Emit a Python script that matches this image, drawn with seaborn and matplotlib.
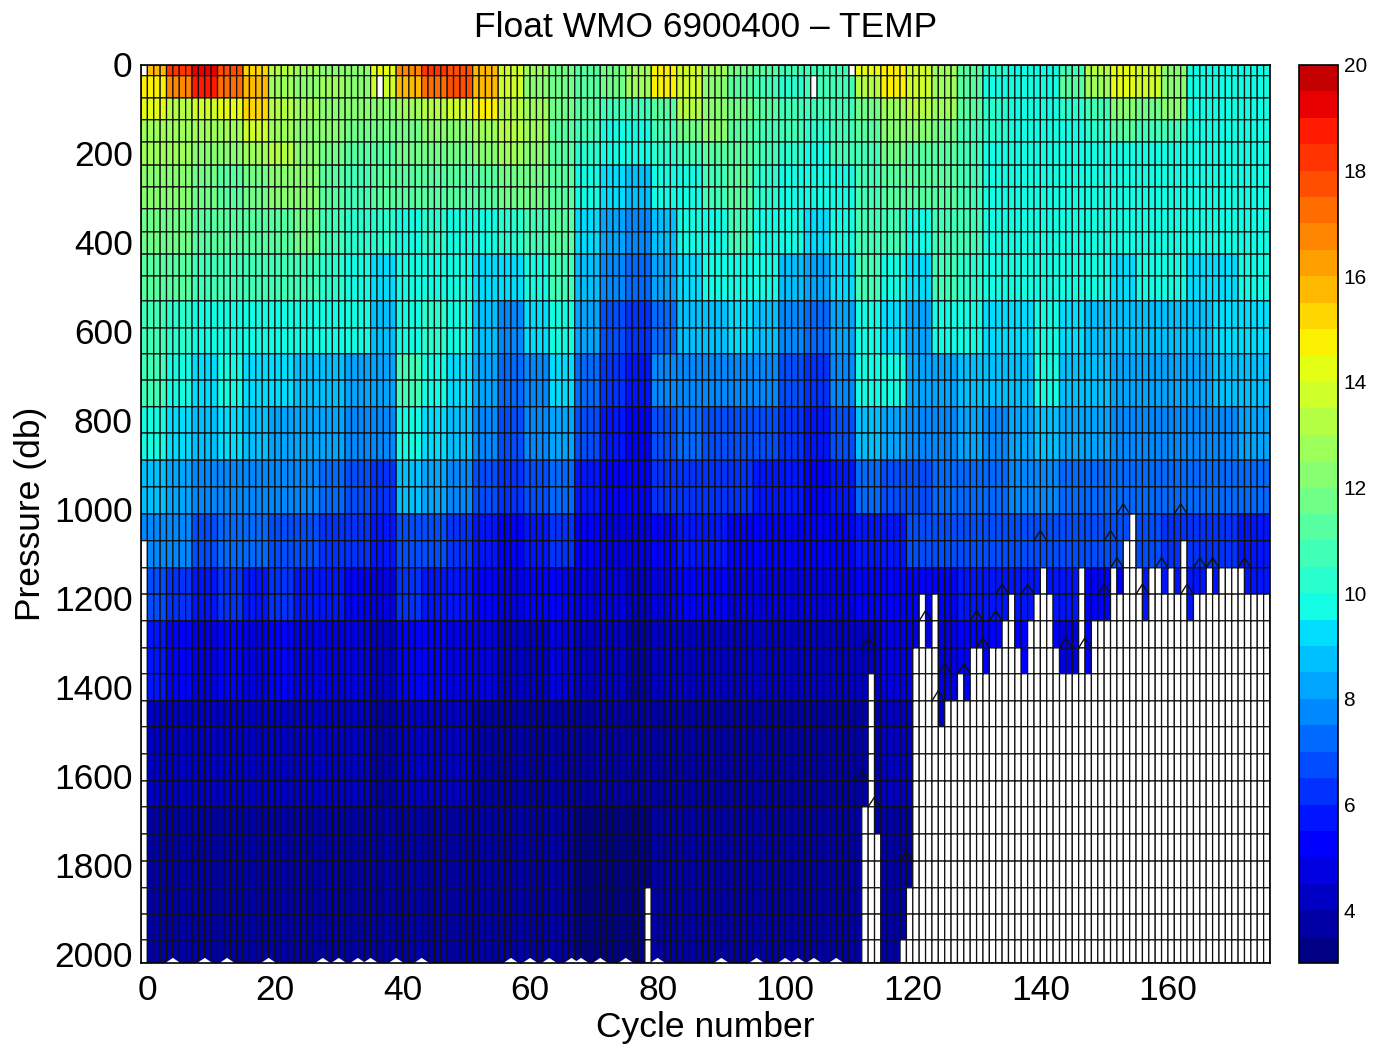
import numpy as np
import matplotlib
matplotlib.use("Agg")
import matplotlib.pyplot as plt
from matplotlib.colors import ListedColormap
from matplotlib.transforms import ScaledTranslation
import seaborn as sns

# pressure limits of each row of cells (db)
level_edges = [-2, 22, 72, 121, 171, 223, 272, 321, 373, 423, 472, 528, 589, 647, 706, 766, 825, 886, 946,
               1007, 1067, 1128, 1187, 1247, 1308, 1366, 1427, 1485, 1546, 1607, 1665, 1726, 1787, 1847,
               1906, 1964, 2016]
# how many rows of cells each temperature list below covers
rows_per_list = [1, 1, 1, 1, 1, 2, 2, 2, 2, 2, 2, 2, 2, 2, 3, 4, 6]
columns_per_value = 4
# temperature (deg C) read per group of four cycles, from the surface down
t00 = [15.5,18,19,17.5,15,13,12.5,12,12,14,16.5,18,17.5,15.5,13.5,12.5,11.5,11,11.5,12.5,14.5,13.5,12.5,11.5,11,10.5,10.5,10.5,14,14.5,13.5,12.5,11,10.2,9.8,9.8,10.7,13,14.2,13.5,12,9.8,9.7,9.5]
t01 = [14.5,16.5,18.5,17,15.5,12.5,12,12.5,12,13.5,15.5,17,17.5,15.5,13.5,12,11.5,11,11.5,12.5,14.5,13.5,12,11,10.5,10.3,10.5,10.5,13,14.5,13.5,12.5,11,9.8,9.8,9.8,11,12.5,14,13.5,12,9.8,9.5,9.5]
t02 = [14,13.2,13.8,14,15,13,12.5,12,12,12,12.5,13,13.5,14.5,13.3,12.5,11.5,11,10.5,10.5,11,13,12,11.5,11,10.5,10.5,10.5,11.5,12.5,13,12.5,11.2,10.3,9.8,9.8,10.2,10.5,12,11.5,12,9.8,9.7,9.5]
t03 = [12.5,12.5,12.5,12.5,13.5,12.5,12,12,11.5,11.5,11.5,12,12,12.5,13.1,12.5,11.3,10.5,9.8,9.8,10.5,11.5,12,11.3,10.8,10.5,10.2,10.5,11,12,12,11.5,10.8,10,9.8,9.8,9.8,10.2,11,10.5,10.5,9.8,9.7,9.7]
t04 = [12.5,12.5,12,12,12.5,13,12,11.5,11,11.2,11.5,11.5,11.5,12,12.8,12.3,11,10.3,9.8,9.8,10.2,10.8,11.3,11.3,10.8,10.2,9.9,10.5,10.8,11.5,11,11,10.5,9.8,9.8,9.8,9.8,9.8,9.8,9.8,9.8,9.7,9.7,9.7]
t05 = [12.3,12,11.8,11.3,11.5,12.3,12,11.2,10.8,11,11.3,11,11,11.3,11.7,11.5,11,9.8,9.2,8.8,9.6,9.9,10.8,11,10.3,9.9,9.9,9.9,10.8,11,11,11,10.5,9.8,9.8,9.8,9.8,9.8,9.8,9.8,9.8,9.7,9.7,9.7]
t07 = [11.5,11.5,11.3,11,11,11.3,11.5,10.8,10.3,10.3,9.9,10.3,9.9,9.9,10.2,10.5,11,9.2,8,7.8,8.7,9.5,9.9,10.8,9.9,9.5,9.2,9.8,10.5,10.5,9.9,10.8,10.5,9.8,9.8,9.8,9.8,9.8,9.8,9.8,9.8,9.7,9.5,9.5]
t09 = [11,11,10.8,10.5,10.5,10.8,10.8,10.2,9.8,9.3,9.5,9.9,9.8,9,9,9.9,10.8,8.8,7.5,7,8,9.2,9.8,9.9,9.5,8.8,8.3,9.3,10.5,9.9,9.3,10.8,10.3,9.8,9.8,9.6,9.5,9.5,9.3,9.5,9.5,9.3,9.3,9.5]
t11 = [10.8,10.3,9.9,9.9,9.9,9.9,9.9,9.8,9.5,8.5,9.8,10.2,9.5,8.5,7.8,9,9.8,8,6.5,6,7.2,8.5,8.5,9,8.5,7.8,7,8,9.8,9,8,9.8,9.5,9,9,9.5,9,8.8,8.8,8.7,8.5,8.5,9,9]
t13 = [10.8,9.7,9.3,9.7,9.3,9,8.8,8.9,8,8,10.5,9.9,9,8,7.4,7.8,9,7.3,6,5.5,7.5,7.5,7.5,7.8,7.5,6.8,6.3,7.5,9.5,9.5,8,8.3,8.8,8.5,8.5,9.5,8.8,8.5,8.3,8.3,8.2,8,8.5,8.5]
t15 = [9.5,9,8.8,9,8.8,8,8,8,7.5,7.5,9.5,9.3,8.5,7.5,6.8,7.5,8,6.5,5.8,5.3,6.8,7,6.8,6.8,6.5,6,5.8,6.5,8.5,8,7.5,7.5,8,7.8,8,8.5,8,8,7.8,7.8,7.8,7.8,7.8,8]
t17 = [8.5,8.3,7.8,7.8,7.8,7.5,7.5,7.2,6.8,6.2,8.5,8,7.5,6.7,6,6.5,7,5.7,5.3,5,6,6.2,6,6,5.8,5.5,5.3,5.5,7,6.8,6.5,7,7.2,7.3,7.5,7.5,7.3,7.2,7.2,7.2,7,7,7,7.2]
t19 = [7.5,7.5,6.8,7,7,6.8,6.8,6.3,6,5.5,6.8,6.5,6.3,5.8,5.2,5.5,6,5.2,4.8,4.5,5.3,5.5,5.5,5.3,5.1,5,5,5,5.8,5.5,6.8,6.5,6.5,6.7,6.7,6.5,6.5,6.5,6.5,6.5,6.2,6.2,6.2,5.8]
t21 = [6.8,6.3,5.5,6,5.8,6,5.8,5.5,5.2,4.8,6,5.7,5.5,5.3,4.9,5,5.2,4.7,4.5,4.3,4.8,5,5,4.8,4.7,4.6,4.6,4.6,5,5,5.2,5.2,5.5,5.5,5.5,5.5,5.5,5.3,5.3,5.5,5.5,5.5,5.5,5.5]
t23 = [5.5,5,4.6,5,4.8,5,4.8,4.6,4.5,4.3,5,5,4.8,4.5,4.3,4.4,4.5,4.2,4,3.9,4.2,4.3,4.4,4.3,4.2,4.1,4.1,4.1,4.3,4.5,4.8,4.8,5,5,5,5,4.8,5,5,5,5,5,5,5]
t26 = [4.3,4.2,4,4.2,4.1,4.2,4.1,4,4,3.9,4.1,4.1,4,3.9,3.8,3.8,3.9,3.8,3.7,3.6,3.8,3.8,3.8,3.8,3.7,3.7,3.7,3.7,3.9,4,4.2,4.2,4.2,4.2,4.2,4.2,4.2,4.2,4.2,4.2,4.2,4.2,4.2,4.2]
t30 = [3.7,3.7,3.7,3.7,3.7,3.7,3.7,3.7,3.7,3.7,3.7,3.7,3.7,3.6,3.6,3.6,3.6,3.4,3.4,3.4,3.6,3.6,3.6,3.6,3.6,3.6,3.6,3.6,3.7,3.7,3.7,3.7,3.7,3.7,3.7,3.7,3.7,3.7,3.7,3.7,3.7,3.7,3.7,3.7]
temperature_lists = [t00, t01, t02, t03, t04, t05, t07, t09, t11, t13, t15, t17, t19, t21, t23, t26, t30]
# number of rows holding data in each of the 177 columns, left to right
column_depth = [20] + [36] * 78 + [33] + [36] * 33 + [30, 25, 31, 36, 36, 36, 35, 33, 24, 22, 24, 22, 27, 26, 26, 25,
                26, 24, 24, 25, 24, 24, 23, 22, 24, 25, 23, 22, 21, 22, 24, 25, 25, 25, 21, 25, 23, 23, 23, 21, 22,
                20, 19, 21, 23, 21, 21, 22, 21, 22, 20, 23, 22, 22, 21, 22, 21, 21, 21, 21, 22, 22, 22, 22]
# (column, row) of isolated missing cells
missing_cells = [(0, 0), (37, 1), (105, 1), (111, 0)]
# places where a level bulges upward: column edge, level number
bulge_edge = [154, 163, 123, 131, 134, 132, 129, 126, 125, 135, 139, 151, 157, 164, 148, 145, 153, 160, 166, 173, 168, 141, 152, 113, 115, 120, 114]
bulge_level = [19, 19, 23, 23, 23, 24, 25, 25, 26, 22, 22, 22, 22, 22, 24, 24, 21, 21, 21, 21, 21, 20, 20, 29, 30, 32, 24]
# places where the deepest level stops short of the bottom: column edge
shallow_edge = [5, 10, 13.5, 20, 28.5, 31, 34, 36, 40, 44, 58, 61, 64, 67.5, 69, 72, 76, 81, 91, 96.5, 101, 103, 105.5, 109]

cycle_ticks = [0, 20, 40, 60, 80, 100, 120, 140, 160]
pressure_ticks = [0, 200, 400, 600, 800, 1000, 1200, 1400, 1600, 1800, 2000]
colorbar_ticks = [4, 6, 8, 10, 12, 14, 16, 18, 20]
title_text = "Float WMO 6900400 \u2013 TEMP"

sns.set_theme(style="ticks")
plt.rcParams["font.family"] = ["Liberation Sans", "DejaVu Sans"]

table = np.repeat(np.array(temperature_lists, dtype=float), rows_per_list, axis=0)
table = np.repeat(table, columns_per_value, axis=1)
table = np.hstack([table, table[:, -1:]])
for c, depth in enumerate(column_depth):
    table[depth:, c] = np.nan
for c, r in missing_cells:
    table[r, c] = np.nan

colors = plt.get_cmap("jet")(0.004 + np.arange(34) * 0.0283)
cmap = ListedColormap(sns.color_palette(colors[:, :3].tolist()))
cmap.set_bad("white")

fig = plt.figure(figsize=(13.74, 10.54), dpi=100, facecolor="white")
W, H = 1374, 1054
ax = fig.add_axes([141 / W, (H - 963) / H, 1129 / W, 898 / H])
cax = fig.add_axes([1299 / W, (H - 963) / H, 39 / W, 898 / H])

sns.heatmap(table, ax=ax, cbar_ax=cax, cmap=cmap, vmin=3, vmax=20, linewidths=0.9, linecolor="#101010",
            antialiased=True, xticklabels=False, yticklabels=False, cbar_kws={"ticks": colorbar_ticks})
ax.collections[0].set_antialiased(True)
ax.collections[0].set_snap(False)

edges = np.array(level_edges, dtype=float)
index = np.arange(len(edges), dtype=float)
ax.set_yscale("function", functions=(lambda r: np.interp(r, index, edges),
                                     lambda p: np.interp(p, edges, index)))

for e, lev in zip(bulge_edge, bulge_level):
    ax.plot([e - 1, e, e + 1], [lev, lev - 0.38, lev], color="#101010", lw=1.0, solid_joinstyle="miter", zorder=2.3)
for e in shallow_edge:
    ax.fill([e - 1.2, e, e + 1.2], [36, 35.78, 36], color="white", lw=0, zorder=2.2)

ax.set_ylim(len(edges) - 1, 0)
ax.set_xlim(0, table.shape[1])
ax.set_xticks([c + 1 for c in cycle_ticks], [str(c) for c in cycle_ticks])
ax.set_yticks(np.interp(pressure_ticks, edges, index), [str(p) for p in pressure_ticks])
ax.minorticks_off()
ax.tick_params(axis="both", which="major", direction="in", length=8, width=0.8, color="black",
               labelsize=25.5, top=True, right=True, labelcolor="black",
               left=True, bottom=True)
ax.tick_params(axis="x", pad=8)
ax.tick_params(axis="y", pad=6)
for s in ax.spines.values():
    s.set_visible(True)
    s.set_color("black")
    s.set_linewidth(1.2)
shift = ScaledTranslation(0, 1.5 / 100, fig.dpi_scale_trans)
for lab in ax.get_yticklabels():
    lab.set_rotation(0)
    lab.set_transform(lab.get_transform() + shift)
ax.set_xlabel("Cycle number", fontsize=25.5, labelpad=3, color="black")
ax.set_ylabel("Pressure (db)", fontsize=25.5, labelpad=5, color="black")
ax.set_title(title_text, fontsize=25.5, pad=20, color="black")

cbar = ax.collections[0].colorbar
cbar.outline.set_visible(True)
cbar.outline.set_edgecolor("black")
cbar.outline.set_linewidth(1.2)
cbar.ax.tick_params(direction="in", length=6.5, width=0.8, color="black", left=True, right=True,
                    labelsize=15, labelcolor="black", pad=4)

fig.savefig("out.png", dpi=100)
